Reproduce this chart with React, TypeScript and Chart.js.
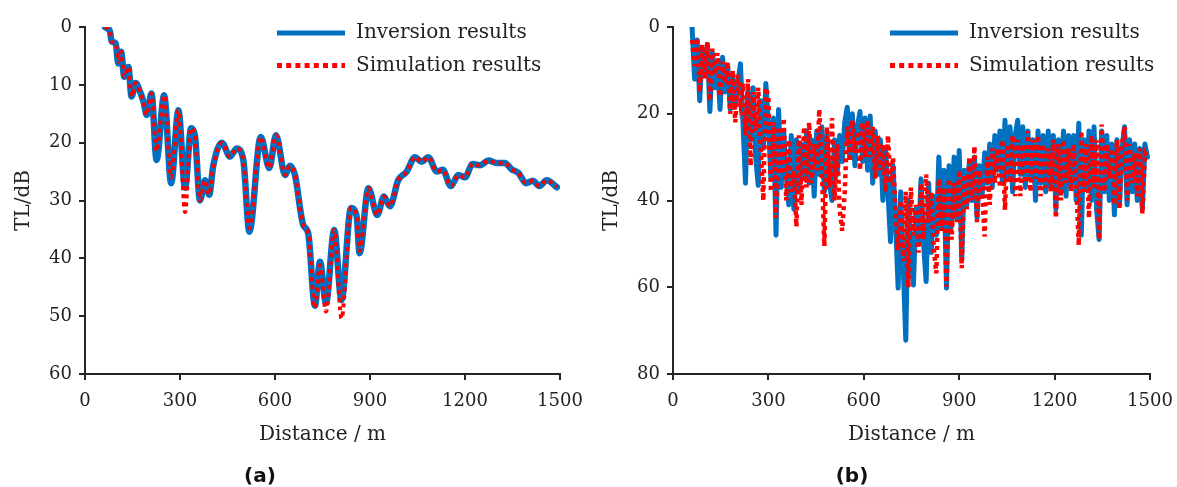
import React, { useEffect, useRef } from "react";
import { Chart, registerables } from "chart.js";

Chart.register(...registerables);

// ---------- Panel (a) ----------
const A_DIST = [63,79,84,97,105,114,124,137,147,160,174,185,195,210,226,250,272,295,316,335,347,363,379,392,405,432,458,479,500,519,555,582,603,632,647,663,689,705,726,742,761,787,810,840,858,867,895,923,944,963,989,1016,1042,1063,1084,1111,1130,1155,1179,1200,1224,1247,1274,1300,1326,1347,1368,1393,1414,1435,1458,1490];
const A_INV = [0,0.8,2.5,2.8,6.3,4.3,8.6,6.9,12,9.7,11.2,13,15.2,11.5,23,11.8,27,14.4,27.8,17.5,18.7,30,26.5,29,24,20,22.4,21,23,35.4,19,24.4,18.7,25.6,24,25.6,34.2,35.7,48.2,40.6,47.7,35.1,47.2,31.3,32.8,39.1,27.9,32.5,29.3,31,26.5,25,22.5,23.3,22.5,25,24.7,27.5,25.6,26,23.7,23.9,23.1,23.5,23.5,24.6,25.2,27,26.6,27.5,26.5,27.7];
const A_SIM = [0,0.8,2.5,2.8,6.0,4.3,8.6,6.9,12,9.7,11.2,13,15.2,11.5,21.5,11.8,26,14.4,32,17.5,18.7,30,26.5,29,24,20,22.4,21,23,34.8,19,24.4,18.7,25.6,24,25.6,34.2,35.7,48.6,41.2,49.2,35.1,50.4,31.3,32.8,38.7,27.9,32.5,29.3,31,26.5,25,22.5,23.3,22.5,25,24.7,27.5,25.6,26,23.7,23.9,23.1,23.5,23.5,24.6,25.2,27,26.6,27.5,26.5,27.7];

// ---------- Panel (b) ----------
const B_DIST = [60,68,76,84,92,100,108,116,124,132,140,148,156,164,172,180,188,196,204,212,220,228,236,244,252,260,268,276,284,292,300,308,316,324,332,340,348,356,364,372,380,388,396,404,412,420,428,436,444,452,460,468,476,484,492,500,508,516,524,532,540,548,556,564,572,580,588,596,604,612,620,628,636,644,652,660,668,676,684,692,700,708,716,724,732,740,748,756,764,772,780,788,796,804,812,820,828,836,844,852,860,868,876,884,892,900,908,916,924,932,940,948,956,964,972,980,988,996,1004,1012,1020,1028,1036,1044,1052,1060,1068,1076,1084,1092,1100,1108,1116,1124,1132,1140,1148,1156,1164,1172,1180,1188,1196,1204,1212,1220,1228,1236,1244,1252,1260,1268,1276,1284,1292,1300,1308,1316,1324,1332,1340,1348,1356,1364,1372,1380,1388,1396,1404,1412,1420,1428,1436,1444,1452,1460,1468,1476,1484,1492];
const B_INV = [
  0,12,3,17,5,10,4,19.5,6,14,
  8,19,7,15,9,19,11,18,13,8.5,
  22,36,15,26,14,30,36.5,17,28,13,
  22,35,21,48,19,37,24,34,41,25,
  42,26,38,27,35,24,36,26,39,24,
  34,23,38,25,36,40,26,34,25,31,
  22,18.5,30,20,32,23,19.5,31,21,33,
  20.5,36,24,34,26,40,28,38,49.5,32,
  45,60.2,38,55,72.2,40,52,59.5,42,50,
  35,50,58.7,36,52,39,48,30,46,33,
  60.2,32,46,30,44,28.5,53.7,33,41,31,
  40,30,44,32,39,29,36,27,37,25,
  33,24,36,21.5,35,23,38,25,21.5,34,
  23,37,24,35,26,40,24,36,25,38,
  24,37,25,42,26,38,24,39,25,36,
  25,40,22.2,48,26,37,24,40,23,42,
  49,24,38,25,40,27,43.3,26,41,28,
  23,41,26,38,27,40,28,42,27,30
];
const B_SIM = [
  3,9,2.5,15,4,12,3.5,17,5,11,
  6,16,8,13,8,20,10,22,11,17,
  13,25,12,32,15,24,14,28,40,14,
  16,38,22,44,23,34,21,40,26,38,
  33,46,25,41,23,37,22,36,27,33,
  19,33,50.5,23,37,21,40,27,42,47,
  38,23,31,21.5,29,24,33,22,30,21.5,
  30,23,35,25,33,27,38,25,36,30,
  43,51.5,40,54,38,60,37,48,41,52,
  36,49,34,45,38,51,56.8,35,47,37,
  59.9,35,49,36,45,33,55.6,34,42,30,
  40,27.5,45,33,38,48.3,30,41,28,36,
  28,37,26,42.2,27,36,25,39,26,39,
  27,36,24,38,26,35,25,39,27,37,
  28,38,26,44,27,40,26,36,28,38,
  27,36,50.3,24,38,27,44,25,37,26,
  49,22.5,38,27,35,28,41,26,42,27,
  23,40,27,36,29,39,28,43,29,30
];

const X_TICK_STEP = 300;
const SERIES_NAMES = ["Inversion results", "Simulation results"];

const SERIF = "'DejaVu Serif', serif";
const TEXT = "#222222";
const AXIS = "#262626";
const BLUE = "#0070C0";
const RED = "#FF0000";

const innerLegend = {
  id: "innerLegend",
  afterDraw(chart: any, _args: any, opts: any) {
    const ctx = chart.ctx;
    ctx.save();
    opts.items.forEach((it: any) => {
      const ds = chart.data.datasets[it.index];
      ctx.beginPath();
      ctx.strokeStyle = ds.borderColor;
      ctx.lineWidth = it.width;
      ctx.lineCap = "butt";
      ctx.setLineDash(it.dash || []);
      ctx.moveTo(opts.x1, it.y);
      ctx.lineTo(opts.x2, it.y);
      ctx.stroke();
      ctx.setLineDash([]);
      ctx.fillStyle = TEXT;
      ctx.font = `20px ${SERIF}`;
      ctx.textBaseline = "middle";
      ctx.textAlign = "left";
      ctx.fillText(ds.label, opts.textX, it.y);
    });
    ctx.restore();
  },
};

const zeroPad = (s: any) => {
  s.paddingLeft = 0; s.paddingRight = 0; s.paddingTop = 0; s.paddingBottom = 0;
};

function makeConfig(
  xs: number[], inv: number[], sim: number[], yMax: number, yStep: number,
  smooth: boolean, rightPad: number, leg: { x1: number; x2: number; textX: number }
): any {
  const toPts = (ys: number[]) => xs.map((x, i) => ({ x, y: ys[i] }));
  return {
    type: "line",
    data: {
      datasets: [
        {
          label: SERIES_NAMES[1],
          data: toPts(sim),
          borderColor: RED,
          borderWidth: smooth ? 4 : 4.5,
          borderDash: [4, 4],
          borderCapStyle: "butt",
          pointRadius: 0,
          cubicInterpolationMode: smooth ? "monotone" : "default",
          tension: 0,
          order: 0,
        },
        {
          label: SERIES_NAMES[0],
          data: toPts(inv),
          borderColor: BLUE,
          borderWidth: smooth ? 6.5 : 5,
          borderJoinStyle: "round",
          borderCapStyle: "round",
          pointRadius: 0,
          cubicInterpolationMode: smooth ? "monotone" : "default",
          tension: 0,
          order: 1,
        },
      ],
    },
    options: {
      responsive: false,
      maintainAspectRatio: false,
      animation: false,
      layout: { padding: { left: 0, top: 27, right: rightPad, bottom: 40 } },
      plugins: {
        legend: { display: false },
        tooltip: { enabled: false },
        innerLegend: {
          x1: leg.x1, x2: leg.x2, textX: leg.textX,
          items: [
            { index: 1, y: 33, width: 5, dash: [] },
            { index: 0, y: 65.5, width: 5, dash: [5, 4.2] },
          ],
        },
      },
      scales: {
        x: {
          type: "linear",
          min: 0,
          max: 1500,
          afterFit: (s: any) => { s.height = 73; zeroPad(s); },
          border: { color: AXIS, width: 2 },
          grid: { drawOnChartArea: false, drawTicks: true, tickLength: 6, color: AXIS, lineWidth: 2 },
          ticks: {
            stepSize: X_TICK_STEP, autoSkip: false, maxRotation: 0, padding: 11, color: TEXT,
            font: { family: SERIF, size: 18 },
            callback: (v: any) => String(v),
          },
          title: { display: true, text: "Distance / m", color: TEXT, font: { family: SERIF, size: 20 }, padding: { top: 0, bottom: 0 } },
        },
        y: {
          type: "linear",
          reverse: true,
          min: 0,
          max: yMax,
          afterFit: (s: any) => { s.width = 85; zeroPad(s); },
          border: { color: AXIS, width: 2 },
          grid: { drawOnChartArea: false, drawTicks: true, tickLength: 6, color: AXIS, lineWidth: 2 },
          ticks: { stepSize: yStep, padding: 7, color: TEXT, font: { family: SERIF, size: 18 }, callback: (v: any) => String(v) },
          title: { display: true, text: "TL/dB", color: TEXT, font: { family: SERIF, size: 20 }, padding: { top: 12, bottom: 0 } },
        },
      },
    },
    plugins: [innerLegend],
  };
}

export default function App() {
  const refA = useRef<HTMLCanvasElement>(null);
  const refB = useRef<HTMLCanvasElement>(null);

  useEffect(() => {
    const a = new Chart(refA.current as HTMLCanvasElement,
      makeConfig(A_DIST, A_INV, A_SIM, 60, 10, true, 28, { x1: 277, x2: 345, textX: 356 }));
    const b = new Chart(refB.current as HTMLCanvasElement,
      makeConfig(B_DIST, B_INV, B_SIM, 80, 20, false, 27, { x1: 302, x2: 370, textX: 381 }));
    return () => { a.destroy(); b.destroy(); };
  }, []);

  const lab: React.CSSProperties = {
    position: "absolute", top: 463, width: 100, textAlign: "center",
    font: "bold 20px 'DejaVu Sans', sans-serif", lineHeight: "24px", color: "#111",
  };

  return (
    <div style={{ position: "fixed", left: 0, top: 0, width: 1177, height: 487, background: "#fff", overflow: "hidden" }}>
      <canvas ref={refA} width={588} height={487} style={{ position: "absolute", left: 0, top: 0, width: 588, height: 487 }} />
      <canvas ref={refB} width={589} height={487} style={{ position: "absolute", left: 588, top: 0, width: 589, height: 487 }} />
      <div style={{ ...lab, left: 210 }}>(a)</div>
      <div style={{ ...lab, left: 802 }}>(b)</div>
    </div>
  );
}
